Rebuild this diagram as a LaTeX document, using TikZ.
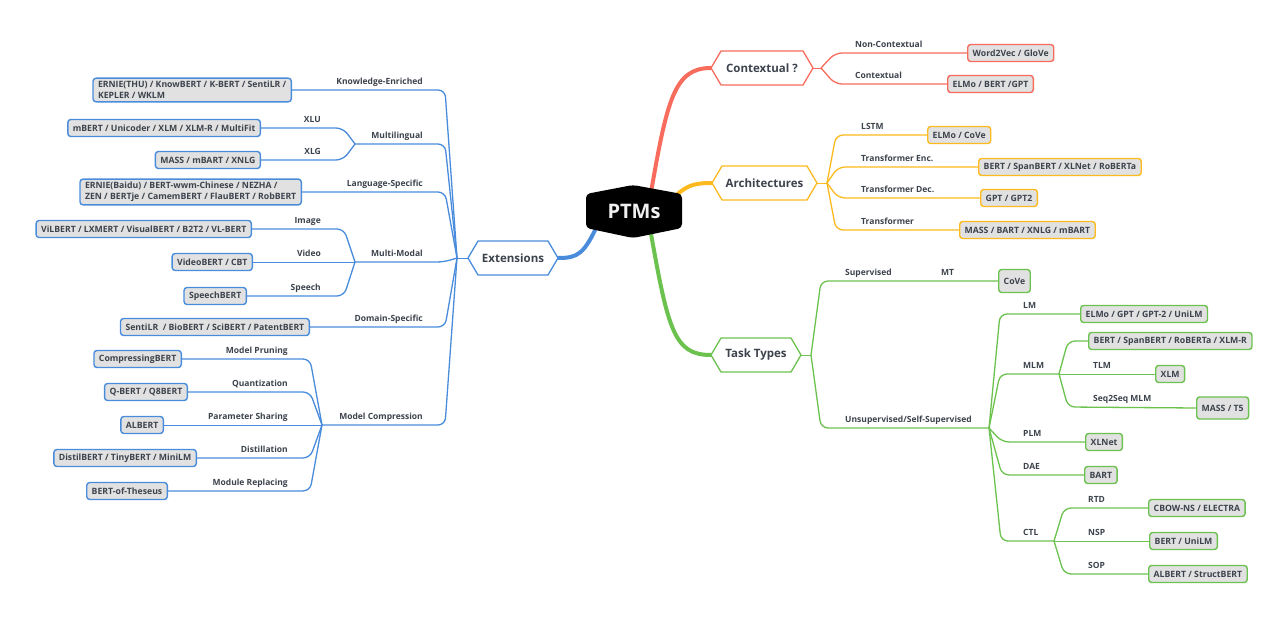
\documentclass[tikz,border=0pt]{standalone}
\usepackage{fontspec}
\setmainfont{Open Sans}
\usetikzlibrary{calc}
\pgfdeclarelayer{back}
\pgfdeclarelayer{bg}
\pgfsetlayers{back,bg,main}
\definecolor{mmred}{HTML}{F86C5D}
\definecolor{mmorange}{HTML}{FCBA1E}
\definecolor{mmgreen}{HTML}{6CC24F}
\definecolor{mmblue}{HTML}{4A8CDC}
\definecolor{boxfill}{HTML}{E1E1E1}
\definecolor{txt}{HTML}{3D434D}
\definecolor{ptmtxt}{HTML}{F0F0F0}
\newcommand\mmhex[6]{%
  \draw[line width=1.3pt, draw=#5, fill=white, line join=round]
    (#2-#4,#3) -- (#2-#4+10,#3-17) -- (#2+#4-10,#3-17) -- (#2+#4,#3)
    -- (#2+#4-10,#3+17) -- (#2-#4+10,#3+17) -- cycle;
  \node[hextext, minimum width=2*#4, minimum height=34] (#1) at (#2,#3) {#6};}
\begin{document}
\begin{tikzpicture}[x=1pt,y=-1pt,
  hextext/.style={inner sep=0pt, text=txt, font=\bfseries\fontsize{11.5}{13}\selectfont},
  bx/.style={draw=#1, fill=boxfill, rounded corners=3pt, line width=1.4pt,
    inner xsep=5pt, inner ysep=3pt, minimum height=17pt, text=txt, align=left,
    font=\bfseries\fontsize{8.7}{11}\selectfont},
  lbl/.style={inner sep=0pt, text=txt, font=\bfseries\fontsize{8.5}{10}\selectfont},
  br/.style={draw=#1, line width=1.3pt, rounded corners=7pt},
  straight/.style={draw=#1, line width=0.9pt},
  thick/.style={draw=#1, line width=4pt, line cap=round}]
\useasboundingbox (0,0) rectangle (1288,620);
\begin{pgfonlayer}{back}
\fill[white] (0,0) rectangle (1288,620);
\end{pgfonlayer}

% ---------- central node ----------
\fill[black, rounded corners=4pt] (586,194) -- (633,185) -- (682,194) -- (682,228) -- (633,238) -- (586,228) -- cycle;
\node[inner sep=0pt, minimum width=96, minimum height=34, text=ptmtxt,
  font=\bfseries\fontsize{20}{22}\selectfont] (ptms) at (634,211) {PTMs};

% ---------- hexagons ----------
\mmhex{ctx}{762}{68}{51}{mmred}{Contextual ?}
\mmhex{arch}{764.5}{183}{52.5}{mmorange}{Architectures}
\mmhex{tt}{756}{355}{45}{mmgreen}{Task Types}
\mmhex{ext}{513}{258}{45}{mmblue}{Extensions}

% ---------- junctions ----------
\coordinate (jext) at (457,258);
\coordinate (jml) at (355,144);
\coordinate (jmm) at (355,262);
\coordinate (jmc) at (322,425);
\coordinate (jctx) at (821,68);
\coordinate (jarch) at (827,183);
\coordinate (jtt) at (811,355);
\coordinate (jun) at (989,428);
\coordinate (jmlm) at (1059,374);
\coordinate (jctl) at (1054,541);

% ---------- left (blue) boxes ----------
\node[bx=mmblue, anchor=east] (ke) at (292,90) {ERNIE(THU) / KnowBERT / K-BERT / SentiLR /\\KEPLER / WKLM};
\node[bx=mmblue, anchor=east] (xlub) at (261,128) {mBERT / Unicoder / XLM / XLM-R / MultiFit};
\node[bx=mmblue, anchor=east] (xlgb) at (261,160) {MASS / mBART / XNLG};
\node[bx=mmblue, anchor=east] (lsb) at (302,192) {ERNIE(Baidu) / BERT-wwm-Chinese / NEZHA /\\ZEN / BERTje / CamemBERT / FlauBERT / RobBERT};
\node[bx=mmblue, anchor=east] (imgb) at (252,229) {ViLBERT / LXMERT / VisualBERT / B2T2 / VL-BERT};
\node[bx=mmblue, anchor=east] (vidb) at (253,262) {VideoBERT / CBT};
\node[bx=mmblue, anchor=east] (spb) at (247,296) {SpeechBERT};
\node[bx=mmblue, anchor=east] (dsb) at (310,327) {SentiLR\ \ / BioBERT / SciBERT / PatentBERT};
\node[bx=mmblue, anchor=east] (mpb) at (182,359) {CompressingBERT};
\node[bx=mmblue, anchor=east] (qzb) at (188,392) {Q-BERT / Q8BERT};
\node[bx=mmblue, anchor=east] (psb) at (164,425) {ALBERT};
\node[bx=mmblue, anchor=east] (dib) at (197,458) {DistilBERT / TinyBERT / MiniLM};
\node[bx=mmblue, anchor=east] (mrb) at (168,491) {BERT-of-Theseus};

% left labels
\node[lbl, anchor=base east] (lke) at (423,84.5) {Knowledge-Enriched};
\node[lbl, anchor=base east] (lml) at (423,138.5) {Multilingual};
\node[lbl, anchor=base east] (lxlu) at (321,122.5) {XLU};
\node[lbl, anchor=base east] (lxlg) at (321,154.5) {XLG};
\node[lbl, anchor=base east] (lls) at (423,186.5) {Language-Specific};
\node[lbl, anchor=base east] (lmm) at (423,256.5) {Multi-Modal};
\node[lbl, anchor=base east] (limg) at (321,223.5) {Image};
\node[lbl, anchor=base east] (lvid) at (321,256.5) {Video};
\node[lbl, anchor=base east] (lsp) at (321,290.5) {Speech};
\node[lbl, anchor=base east] (lds) at (423,321.5) {Domain-Specific};
\node[lbl, anchor=base east] (lmc) at (423,419.5) {Model Compression};
\node[lbl, anchor=base east] (lmp) at (288,353.5) {Model Pruning};
\node[lbl, anchor=base east] (lqz) at (288,386.5) {Quantization};
\node[lbl, anchor=base east] (lps) at (288,419.5) {Parameter Sharing};
\node[lbl, anchor=base east] (ldi) at (288,452.5) {Distillation};
\node[lbl, anchor=base east] (lmr) at (288,485.5) {Module Replacing};

% ---------- red ----------
\node[bx=mmred, anchor=west] (w2v) at (967,53) {Word2Vec / GloVe};
\node[bx=mmred, anchor=west] (ebg) at (947,84) {ELMo / BERT /GPT};
\node[lbl, anchor=base west] (lnc) at (855,47.5) {Non-Contextual};
\node[lbl, anchor=base west] (lc) at (855,78.5) {Contextual};

% ---------- orange ----------
\node[bx=mmorange, anchor=west] (ecb) at (927,135) {ELMo / CoVe};
\node[bx=mmorange, anchor=west] (encb) at (978,167) {BERT / SpanBERT / XLNet / RoBERTa};
\node[bx=mmorange, anchor=west] (decb) at (980,198) {GPT / GPT2};
\node[bx=mmorange, anchor=west] (trb) at (959,230) {MASS / BART / XNLG / mBART};
\node[lbl, anchor=base west] (llstm) at (861,129.5) {LSTM};
\node[lbl, anchor=base west] (lenc) at (861,161.5) {Transformer Enc.};
\node[lbl, anchor=base west] (ldec) at (861,192.5) {Transformer Dec.};
\node[lbl, anchor=base west] (ltr) at (861,224.5) {Transformer};

% ---------- green ----------
\node[bx=mmgreen, anchor=west, minimum height=23pt] (coveb) at (998,281) {CoVe};
\node[bx=mmgreen, anchor=west] (lmb) at (1080,314) {ELMo / GPT / GPT-2 / UniLM};
\node[bx=mmgreen, anchor=west] (mlmb) at (1088,341) {BERT / SpanBERT / RoBERTa / XLM-R};
\node[bx=mmgreen, anchor=west] (xlmb) at (1155,374) {XLM};
\node[bx=mmgreen, anchor=west, minimum height=22pt] (mt5b) at (1196,408) {MASS / T5};
\node[bx=mmgreen, anchor=west] (xlnb) at (1085,442) {XLNet};
\node[bx=mmgreen, anchor=west] (bartb) at (1084,475) {BART};
\node[bx=mmgreen, anchor=west] (rtdb) at (1148,508) {CBOW-NS / ELECTRA};
\node[bx=mmgreen, anchor=west] (nspb) at (1149,541) {BERT / UniLM};
\node[bx=mmgreen, anchor=west] (sopb) at (1148,574) {ALBERT / StructBERT};
\node[lbl, anchor=base west] (lsup) at (845,275.5) {Supervised};
\node[lbl, anchor=base west] (lmt) at (941,275.5) {MT};
\node[lbl, anchor=base west] (lun) at (845,422.5) {Unsupervised/Self-Supervised};
\node[lbl, anchor=base west] (llm) at (1023,308.5) {LM};
\node[lbl, anchor=base west] (lmlm) at (1023,368.5) {MLM};
\node[lbl, anchor=base west] (ltlm) at (1093,368.5) {TLM};
\node[lbl, anchor=base west] (lss) at (1093,401.5) {Seq2Seq MLM};
\node[lbl, anchor=base west] (lplm) at (1023,436.5) {PLM};
\node[lbl, anchor=base west] (ldae) at (1023,469.5) {DAE};
\node[lbl, anchor=base west] (lctl) at (1023,535.5) {CTL};
\node[lbl, anchor=base west] (lrtd) at (1088,502.5) {RTD};
\node[lbl, anchor=base west] (lnsp) at (1088,535.5) {NSP};
\node[lbl, anchor=base west] (lsop) at (1088,568.5) {SOP};

% ---------- connectors ----------
\begin{pgfonlayer}{bg}
% thick main branches
\draw[thick=mmred] (650,198) .. controls (667,100) and (674,68) .. (ctx.west);
\draw[thick=mmorange] (672,199) .. controls (686,186) and (692,183) .. (arch.west);
\draw[thick=mmgreen] (650,228) .. controls (668,330) and (674,355) .. (tt.west);
\draw[thick=mmblue] (598,224) .. controls (584,254) and (578,258) .. (ext.east);

% red
\draw[straight=mmred] (ctx.east) -- (jctx);
\draw[br=mmred] (jctx) -- (835,53) -- (w2v.west);
\draw[br=mmred] (jctx) -- (835,84) -- (ebg.west);

% orange
\draw[straight=mmorange] (arch.east) -- (jarch);
\draw[br=mmorange] (jarch) -- (836,135) -- (ecb.west);
\draw[br=mmorange] (jarch) -- (838,167) -- (encb.west);
\draw[br=mmorange] (jarch) -- (838,198) -- (decb.west);
\draw[br=mmorange] (jarch) -- (836,230) -- (trb.west);

% green
\draw[straight=mmgreen] (tt.east) -- (jtt);
\draw[br=mmgreen] (jtt) -- (821,281) -- (coveb.west);
\draw[br=mmgreen] (jtt) -- (821,428) -- (jun);
\draw[br=mmgreen] (jun) -- (1000,314) -- (lmb.west);
\draw[br=mmgreen] (jun) -- (1000,374) -- (jmlm);
\draw[br=mmgreen] (jmlm) -- (1068,341) -- (mlmb.west);
\draw[straight=mmgreen] (jmlm) -- (xlmb.west);
\draw[br=mmgreen] (jmlm) -- (1068,407) -- (mt5b.west);
\draw[br=mmgreen] (jun) -- (1002,442) -- (xlnb.west);
\draw[br=mmgreen] (jun) -- (1002,475) -- (bartb.west);
\draw[br=mmgreen] (jun) -- (1001,541) -- (jctl);
\draw[br=mmgreen] (jctl) -- (1064,508) -- (rtdb.west);
\draw[straight=mmgreen] (jctl) -- (nspb.west);
\draw[br=mmgreen] (jctl) -- (1064,574) -- (sopb.west);

% blue
\draw[straight=mmblue] (ext.west) -- (jext);
\draw[br=mmblue] (jext) -- (445,90) -- (ke.east);
\draw[br=mmblue] (jext) -- (445,144) -- (jml);
\draw[br=mmblue] (jml) -- (343,128) -- (xlub.east);
\draw[br=mmblue] (jml) -- (343,160) -- (xlgb.east);
\draw[br=mmblue] (jext) -- (445,192) -- (lsb.east);
\draw[br=mmblue] (jext) -- (444,262) -- (jmm);
\draw[br=mmblue] (jmm) -- (344,229) -- (imgb.east);
\draw[straight=mmblue] (jmm) -- (vidb.east);
\draw[br=mmblue] (jmm) -- (344,296) -- (spb.east);
\draw[br=mmblue] (jext) -- (445,327) -- (dsb.east);
\draw[br=mmblue] (jext) -- (445,425) -- (jmc);
\draw[br=mmblue] (jmc) -- (310,359) -- (mpb.east);
\draw[br=mmblue] (jmc) -- (310,392) -- (qzb.east);
\draw[straight=mmblue] (jmc) -- (psb.east);
\draw[br=mmblue] (jmc) -- (310,458) -- (dib.east);
\draw[br=mmblue] (jmc) -- (310,491) -- (mrb.east);
\end{pgfonlayer}
\end{tikzpicture}
\end{document}
